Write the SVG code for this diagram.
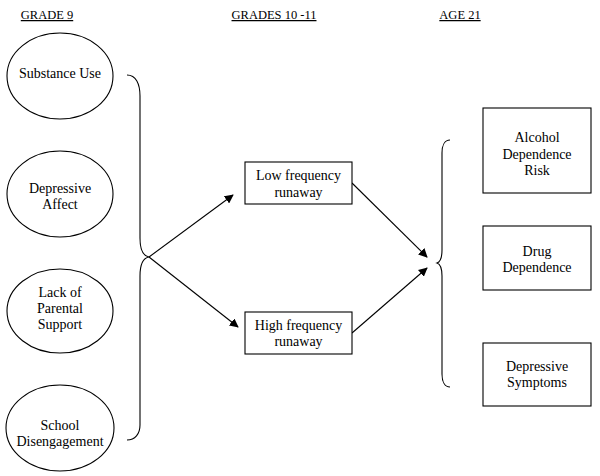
<svg xmlns="http://www.w3.org/2000/svg" width="600" height="476" viewBox="0 0 600 476" font-family="Liberation Serif, Times New Roman, serif">
<style>
text{font-size:14px;fill:#000;text-anchor:middle}
.hd{font-size:12.5px;text-decoration:underline}
.sh{fill:#fff;stroke:#000;stroke-width:1.1}
.ln{fill:none;stroke:#000;stroke-width:1.1}
</style>
<defs>
<marker id="ah" viewBox="0 0 10 10" refX="9" refY="5" markerWidth="9" markerHeight="9" markerUnits="userSpaceOnUse" orient="auto">
<path d="M0,0 L10,5 L0,10 z" fill="#000"/>
</marker>
</defs>
<rect width="600" height="476" fill="#fff"/>
<g id="headers">
<text class="hd" x="47" y="19">GRADE 9</text>
<text class="hd" x="274" y="19">GRADES 10 -11</text>
<text class="hd" x="460" y="19">AGE 21</text>
</g>
<g id="connectors">
<path class="ln" d="M127,75 C136,75 140,84 140,96 L140,238 C140,250 143,256 149,257 C143,258 140,264 140,276 L140,425 C140,434 135,440 127,440"/>
<path class="ln" d="M450,140 C445,140 442,145 442,153 L442,250 C442,258 440,262 437,263 C440,264 442,268 442,276 L442,374 C442,382 445,387 450,387"/>
<line class="ln" x1="149" y1="257" x2="233" y2="195" marker-end="url(#ah)"/>
<line class="ln" x1="149" y1="257" x2="238" y2="327" marker-end="url(#ah)"/>
<line class="ln" x1="352" y1="183" x2="427" y2="257" marker-end="url(#ah)"/>
<line class="ln" x1="352" y1="333" x2="427" y2="268" marker-end="url(#ah)"/>
</g>
<g id="substance-use">
<ellipse class="sh" cx="60" cy="76" rx="53" ry="43"/>
<text x="60" y="78">Substance Use</text>
</g>
<g id="depressive-affect">
<ellipse class="sh" cx="60" cy="194" rx="53" ry="43"/>
<text x="60" y="193">Depressive</text>
<text x="60" y="209">Affect</text>
</g>
<g id="lack-parental-support">
<ellipse class="sh" cx="60" cy="311" rx="53" ry="42"/>
<text x="60" y="297">Lack of</text>
<text x="60" y="313">Parental</text>
<text x="60" y="329">Support</text>
</g>
<g id="school-disengagement">
<ellipse class="sh" cx="60" cy="428" rx="54" ry="43"/>
<text x="60" y="430">School</text>
<text x="60" y="446">Disengagement</text>
</g>
<g id="low-frequency">
<rect class="sh" x="245" y="162" width="107" height="42"/>
<text x="298.5" y="180">Low frequency</text>
<text x="298.5" y="197">runaway</text>
</g>
<g id="high-frequency">
<rect class="sh" x="245" y="312" width="107" height="42"/>
<text x="298.5" y="330">High frequency</text>
<text x="298.5" y="346">runaway</text>
</g>
<g id="alcohol-dependence">
<rect class="sh" x="483" y="108" width="108" height="85"/>
<text x="537" y="142">Alcohol</text>
<text x="537" y="159">Dependence</text>
<text x="537" y="175">Risk</text>
</g>
<g id="drug-dependence">
<rect class="sh" x="483" y="226" width="108" height="64"/>
<text x="537" y="256">Drug</text>
<text x="537" y="272">Dependence</text>
</g>
<g id="depressive-symptoms">
<rect class="sh" x="483" y="343" width="108" height="63"/>
<text x="537" y="371">Depressive</text>
<text x="537" y="387">Symptoms</text>
</g>
</svg>
